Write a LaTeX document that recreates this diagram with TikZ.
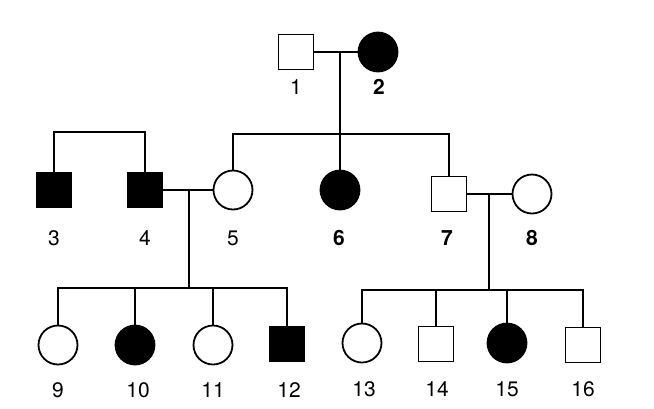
\documentclass[tikz,border=0pt]{standalone}
\usepackage{fontspec}
\setmainfont{TeX Gyre Heros}
\usetikzlibrary{positioning}

\begin{document}
\begin{tikzpicture}[x=1pt, y=-1pt, line width=1.8pt,
  male/.style={draw, rectangle, minimum size=35pt, inner sep=0pt, fill=white},
  female/.style={draw, circle, minimum size=39pt, inner sep=0pt, fill=white},
  affected/.style={fill=black},
  num/.style={font=\fontsize{21}{22}\selectfont, inner sep=0pt},
  boldnum/.style={font=\fontsize{21}{22}\selectfont\bfseries, inner sep=0pt}]
  \useasboundingbox (0,0) rectangle (654,408);
  % generation I
  \node[male] (p1) at (296,52) {};
  \node[female, affected] (p2) at (378,52) {};
  \node[num] (l1) at (296,87) {1};
  \node[boldnum] (l2) at (379,87) {2};
  % generation II
  \node[male, affected] (p3) at (54,190) {};
  \node[male, affected] (p4) at (145,190) {};
  \node[female] (p5) at (233,190) {};
  \node[female, affected] (p6) at (340,190) {};
  \node[male] (p7) at (449,194) {};
  \node[female] (p8) at (532,194) {};
  \node[num] (l3) at (54,238) {3};
  \node[num] (l4) at (145,238) {4};
  \node[num] (l5) at (233,238) {5};
  \node[boldnum] (l6) at (339,238) {6};
  \node[boldnum] (l7) at (447,238) {7};
  \node[boldnum] (l8) at (532,238) {8};
  % generation III
  \node[female] (p9) at (58,345) {};
  \node[female, affected] (p10) at (135,345) {};
  \node[female] (p11) at (213,345) {};
  \node[male, affected] (p12) at (287,344) {};
  \node[female] (p13) at (362,343) {};
  \node[male] (p14) at (436,344) {};
  \node[female, affected] (p15) at (507,343) {};
  \node[male] (p16) at (583,345) {};
  \node[num] (l9) at (58,390) {9};
  \node[num] (l10) at (138,390) {10};
  \node[num] (l11) at (213,390) {11};
  \node[num] (l12) at (289,390) {12};
  \node[num] (l13) at (364,389) {13};
  \node[num] (l14) at (437,389) {14};
  \node[num] (l15) at (507,389) {15};
  \node[num] (l16) at (583,389) {16};
  % marriage points and sibship bars
  \coordinate (m12) at (340,52);
  \coordinate (s2) at (340,134);
  \coordinate (s34) at (100,132);
  \coordinate (m45) at (189,190);
  \coordinate (s3a) at (189,288);
  \coordinate (m78) at (489,194);
  \coordinate (s3b) at (489,290);
  % lines
  \draw (p1) -- (p2);
  \draw (m12) -- (p6);
  \draw (p5) |- (s2) -| (p7);
  \draw (p3) |- (s34) -| (p4);
  \draw (p4) -- (p5);
  \draw (m45) -- (s3a);
  \draw (p9) |- (s3a) -| (p12);
  \draw (s3a) -| (p10);
  \draw (s3a) -| (p11);
  \draw (p7) -- (p8);
  \draw (m78) -- (s3b);
  \draw (p13) |- (s3b) -| (p16);
  \draw (s3b) -| (p14);
  \draw (s3b) -| (p15);
\end{tikzpicture}
\end{document}
